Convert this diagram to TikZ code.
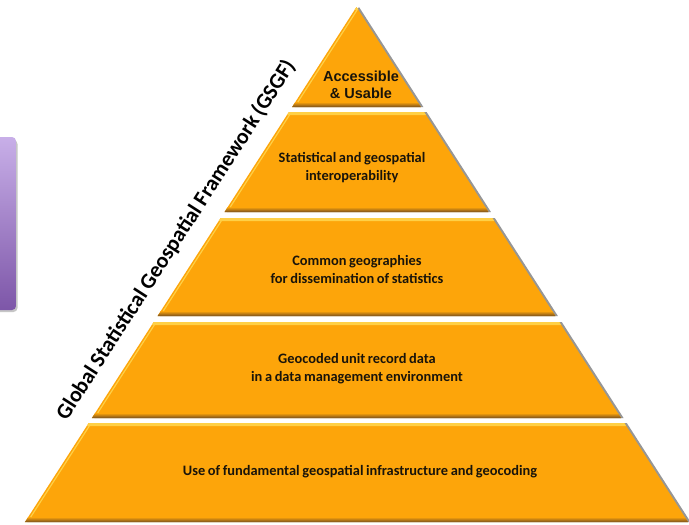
\documentclass[tikz,border=0pt]{standalone}
\usepackage{fontspec}
\newfontfamily\calb[WordSpace=0.8]{Carlito}
\newfontfamily\arialb{Liberation Sans}
\definecolor{tierorange}{RGB}{253,165,10}
\definecolor{hilite}{RGB}{255,208,70}
\definecolor{edgebrown}{RGB}{120,80,30}
\definecolor{shadowgray}{RGB}{150,150,150}
\definecolor{purpTop}{RGB}{200,175,232}
\definecolor{purpBot}{RGB}{125,86,168}
\definecolor{txt}{RGB}{25,20,10}
\tikzset{
  tiertext/.style={font=\calb\bfseries\fontsize{14.4}{18}\selectfont, text=txt, align=center, inner sep=0pt},
  toptext/.style={font=\arialb\bfseries\fontsize{14.5}{16.5}\selectfont, text=txt, align=center, inner sep=0pt},
  sidetext/.style={font=\calb\bfseries\fontsize{21.8}{24}\selectfont, text=black, inner sep=0pt}
}
\begin{document}
\begin{tikzpicture}[x=1pt,y=-1pt]
\useasboundingbox (0,0) rectangle (689,525);
\fill[white] (0,0) rectangle (689,525);
% purple box at left
\begin{scope}
  \clip (0,0) rectangle (689,525);
  \fill[gray!45, rounded corners=4pt] (-10,140) rectangle (17.5,312);
  \shade[top color=purpTop, bottom color=purpBot, rounded corners=4pt] (-10,137) rectangle (16,310);
\end{scope}
% pyramid tiers
\foreach \t/\b in {7/107,112/212,218/316,322/418,423/522}{
  \pgfmathsetmacro\lt{356.5-0.6437*(\t-7)}
  \pgfmathsetmacro\rt{356.5+0.6437*(\t-7)}
  \pgfmathsetmacro\lb{356.5-0.6437*(\b-7)}
  \pgfmathsetmacro\rb{356.5+0.6437*(\b-7)}
  \pgfmathsetmacro\ltt{356.5-0.6437*(\t-4)}
  \pgfmathsetmacro\rtt{356.5+0.6437*(\t-4)}
  \pgfmathsetmacro\lbb{356.5-0.6437*(\b-12)}
  \pgfmathsetmacro\rbb{356.5+0.6437*(\b-12)}
  \fill[shadowgray] (\lt+2.5,\t) -- (\rt+2.5,\t) -- (\rb+2.5,\b) -- (\lb+2.5,\b) -- cycle;
  \fill[tierorange] (\lt,\t) -- (\rt,\t) -- (\rb,\b) -- (\lb,\b) -- cycle;
  \fill[hilite] (\lt,\t) -- (\rt,\t) -- (\rtt,\t+3) -- (\ltt,\t+3) -- cycle;
  \shade[top color=tierorange, bottom color=edgebrown] (\lbb,\b-5) -- (\rbb,\b-5) -- (\rb,\b) -- (\lb,\b) -- cycle;
  \draw[hilite, line width=1.2pt] (\ltt+2.5,\t+3) -- (\lbb+2.5,\b-5);
}
% tier texts
\node[toptext] (t1) at (361,85) {Accessible\\\& Usable};
\node[tiertext] (t2) at (352,168) {Statistical and geospatial\\interoperability};
\node[tiertext] (t3) at (357,269) {Common geographies\\for dissemination of statistics};
\node[tiertext] (t4) at (357,369) {Geocoded unit record data\\in a data management environment};
\node[tiertext] (t5) at (360,472) {Use of fundamental geospatial infrastructure and geocoding};
% side label
\node[sidetext, rotate=57.2] (gsgf) at (176,240) {Global Statistical Geospatial Framework (GSGF)};
\end{tikzpicture}
\end{document}
